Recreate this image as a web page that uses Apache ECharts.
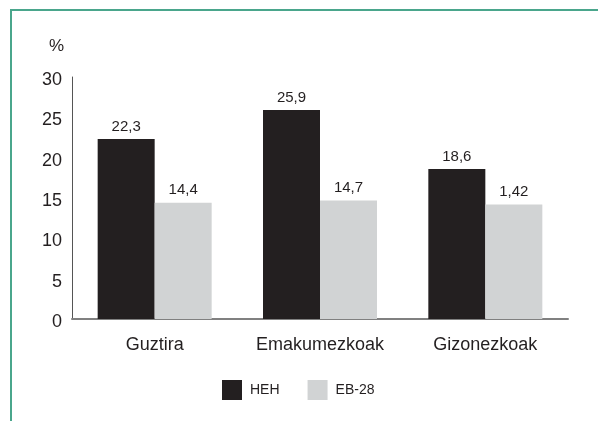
<!DOCTYPE html>
<html>
<head>
<meta charset="utf-8">
<script src="https://cdn.jsdelivr.net/npm/echarts@6/dist/echarts.min.js"></script>
<style>
  html, body { margin: 0; padding: 0; background: #fff; }
  #frame {
    position: absolute; left: 10px; top: 9px; width: 588px; height: 412px;
    border-top: 2px solid #4aa68c; border-left: 2px solid #4aa68c;
    box-sizing: border-box;
  }
  #chart { position: absolute; left: 0; top: 0; width: 598px; height: 421px; }
</style>
</head>
<body>
<div id="frame"></div>
<div id="chart"></div>
<script>
const categories = ['Guztira', 'Emakumezkoak', 'Gizonezkoak']
const hehValues = [22.3, 25.9, 18.6]
const ebValues = [14.4, 14.7, 14.2]
// labels as printed in the source (the last one really says 1,42)
const hehLabels = ['22,3', '25,9', '18,6']
const ebLabels = ['14,4', '14,7', '1,42']
const seriesNames = ['HEH', 'EB-28']

const textColor = '#231f20'
const font = "'Liberation Sans', Arial, Helvetica, sans-serif"

const myChart = echarts.init(document.getElementById('chart'))

const barLabel = (labels) => ({
  show: true,
  position: 'top',
  distance: 5,
  color: textColor,
  fontSize: 15,
  fontFamily: font,
  formatter: p => labels[p.dataIndex]
})

const option = {
  backgroundColor: 'transparent',
  animation: false,
  textStyle: { fontFamily: font },
  grid: { left: 72, right: 30, top: 77, bottom: 102 },
  legend: {
    left: 222,
    top: 380,
    padding: 0,
    itemWidth: 20,
    itemHeight: 20,
    itemGap: 28,
    icon: 'rect',
    textStyle: { color: textColor, fontSize: 14, fontFamily: font, padding: [0, 0, 0, 3] },
    data: seriesNames
  },
  xAxis: {
    type: 'category',
    data: categories,
    axisLine: { lineStyle: { color: '#808080', width: 2 } },
    axisTick: { show: false },
    axisLabel: { color: textColor, fontSize: 18, fontFamily: font, margin: 17, interval: 0, hideOverlap: false }
  },
  yAxis: {
    type: 'value',
    min: 0,
    max: 30,
    interval: 5,
    name: '%',
    nameLocation: 'end',
    nameGap: 22,
    nameTextStyle: { color: textColor, fontSize: 17, fontFamily: font, align: 'right', padding: [0, 8, 0, 0] },
    axisLine: { show: true, lineStyle: { color: '#555', width: 1 } },
    axisTick: { show: false },
    splitLine: { show: false },
    axisLabel: { color: textColor, fontSize: 18, fontFamily: font, margin: 10, verticalAlign: 'top', lineHeight: 6 }
  },
  series: [
    {
      name: seriesNames[0],
      type: 'bar',
      data: hehValues,
      barWidth: 57,
      barGap: '0%',
      itemStyle: { color: '#231f20' },
      label: barLabel(hehLabels)
    },
    {
      name: seriesNames[1],
      type: 'bar',
      data: ebValues,
      barWidth: 57,
      barGap: '0%',
      itemStyle: { color: '#d1d3d4' },
      label: barLabel(ebLabels)
    }
  ]
}

myChart.setOption(option)
</script>
</body>
</html>
